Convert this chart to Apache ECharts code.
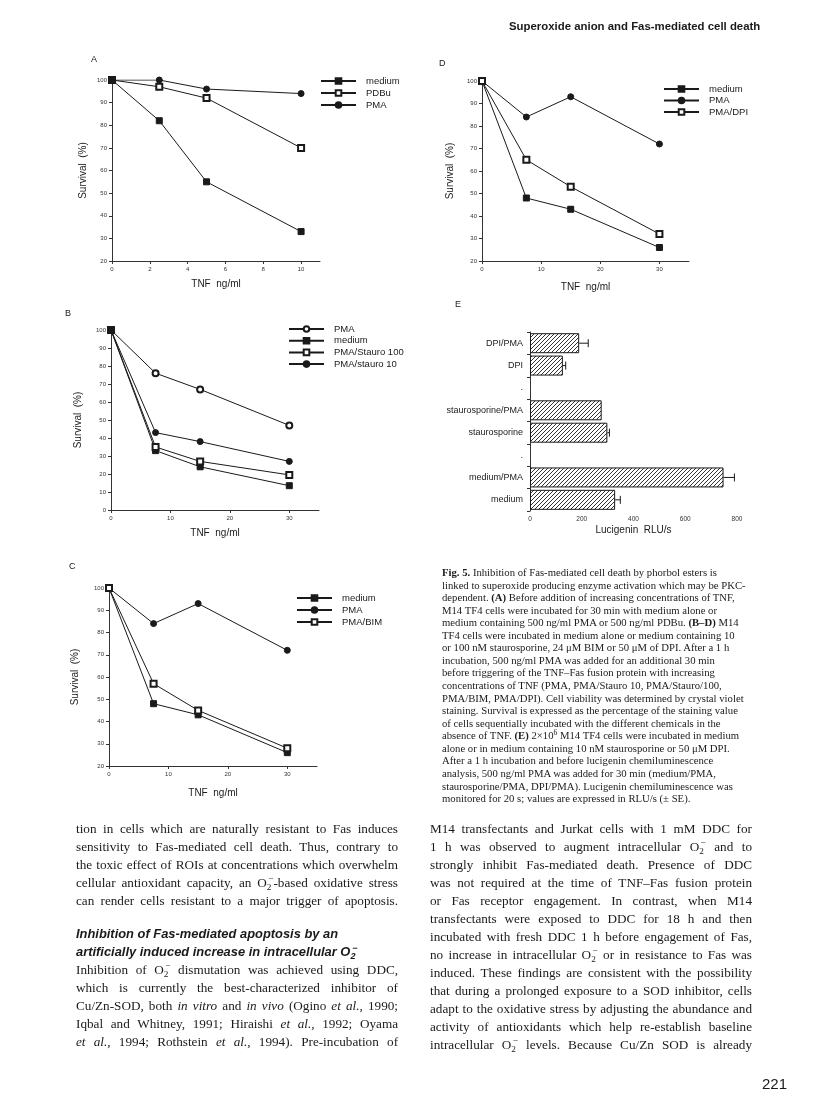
<!DOCTYPE html>
<html><head><meta charset="utf-8">
<script src="https://cdn.jsdelivr.net/npm/echarts@6/dist/echarts.min.js"></script>
<style>
html,body{margin:0;padding:0;background:#fff;}
#page{position:relative;width:816px;height:1104px;overflow:hidden;background:#fff;}
#chart{position:absolute;left:0;top:0;width:816px;height:1104px;}
.t{position:absolute;white-space:nowrap;color:#1a1a1a;}
.cap{font-family:'Liberation Serif',serif;font-size:10.7px;line-height:12px;left:442px;}
.bd{font-family:'Liberation Serif',serif;font-size:13.2px;line-height:18px;width:322px;text-align:justify;text-align-last:justify;}
.hd{font-family:'Liberation Sans',sans-serif;font-size:12.9px;font-weight:bold;font-style:italic;line-height:18px;left:76px;}
.sb{font-size:70%;position:relative;top:3px;}
.sp{font-size:70%;position:relative;top:-5px;margin-left:-0.35em;}
</style></head>
<body><div id="page"><div id="chart"></div><div id="txt"></div></div>
<script>
// ---------- data ----------
const tnfA = [0, 2.5, 5, 10];
const tnfBCD = [0, 7.5, 15, 30];
const aMedium = [100, 82, 55, 33];
const aPDBu = [100, 97, 92, 70];
const aPMA = [100, 100, 96, 94];
const bPMA = [100, 76, 67, 47];
const bMedium = [100, 33, 24, 13.5];
const bStauro100 = [100, 35, 27, 19.5];
const bStauro10 = [100, 43, 38, 27];
const cMedium = [100, 48, 43, 26];
const cPMA = [100, 84, 93, 72];
const cBIM = [100, 57, 45, 28];
const dMedium = [100, 48, 43, 26];
const dPMA = [100, 84, 93, 72];
const dDPI = [100, 65, 53, 32];
const eCategories = ['DPI/PMA', 'DPI', '.', 'staurosporine/PMA', 'staurosporine', '.', 'medium/PMA', 'medium'];
const eValues = [190, 127, null, 277, 299, null, 748, 329];
const eErrors = [35, 11, null, 0, 8, null, 42, 20];

// ---------- helpers ----------
const INK = '#1a1a1a';
const FONT = 'Liberation Sans';
function pts(xs, ys) { return xs.map((x, i) => [x, ys[i]]); }
function lineSeries(name, xs, ys, symbol, idx, size) {
  return {
    type: 'line', name: name, xAxisIndex: idx, yAxisIndex: idx,
    data: pts(xs, ys), symbol: symbol, symbolSize: size || 6,
    lineStyle: { color: INK, width: 1 },
    itemStyle: { color: INK, borderColor: INK, borderWidth: 1 },
    emphasis: { disabled: true }, animation: false
  };
}
function xAx(idx, max, interval, nameGap) {
  return {
    gridIndex: idx, type: 'value', min: 0, max: max, interval: interval,
    name: 'TNF  ng/ml', nameLocation: 'middle', nameGap: nameGap,
    nameTextStyle: { fontSize: 10, fontFamily: FONT, color: INK },
    axisLine: { lineStyle: { color: '#333', width: 1 } },
    axisTick: { length: 3, lineStyle: { color: '#333' } },
    axisLabel: { fontSize: 6, fontFamily: FONT, color: '#333', margin: 5, showMaxLabel: (max % interval === 0) },
    splitLine: { show: false }
  };
}
function yAx(idx, min, nameGap) {
  return {
    gridIndex: idx, type: 'value', min: min, max: 100, interval: 10,
    name: 'Survival  (%)', nameLocation: 'middle', nameGap: nameGap,
    nameTextStyle: { fontSize: 10, fontFamily: FONT, color: INK },
    axisLine: { show: true, lineStyle: { color: '#333', width: 1 } },
    axisTick: { show: true, length: 3, lineStyle: { color: '#333' } },
    axisLabel: { fontSize: 6, fontFamily: FONT, color: '#333', margin: 5 },
    splitLine: { show: false }
  };
}
function legendFor(names, left, top, gap) {
  return {
    data: names, left: left, top: top, orient: 'vertical', padding: 0,
    itemWidth: 35, itemHeight: 7, itemGap: gap, selectedMode: false,
    formatter: n => n.split(':')[1],
    textStyle: { fontSize: 9.5, fontFamily: FONT, color: INK, padding: [0, 0, 0, 5] }
  };
}
function letter(t, left, top) {
  return { text: t, left: left, top: top, padding: 0, textStyle: { fontSize: 9, fontWeight: 'normal', fontFamily: FONT, color: INK } };
}

// hatch pattern for bars
const pc = document.createElement('canvas');
pc.width = 4; pc.height = 4;
const g = pc.getContext('2d');
g.fillStyle = '#fff'; g.fillRect(0, 0, 4, 4);
g.strokeStyle = '#333'; g.lineWidth = 1;
g.beginPath();
g.moveTo(0, 4); g.lineTo(4, 0);
g.moveTo(-1, 1); g.lineTo(1, -1);
g.moveTo(3, 5); g.lineTo(5, 3);
g.stroke();

const chart = echarts.init(document.getElementById('chart'), null, { renderer: 'canvas', width: 816, height: 1104 });

const option = {
  backgroundColor: '#fff',
  animation: false,
  title: [letter('A', 91, 55), letter('D', 439, 59), letter('B', 65, 309), letter('E', 455, 300), letter('C', 69, 562)],
  grid: [
    { left: 112, top: 80, width: 208, height: 181 },
    { left: 482, top: 81, width: 207, height: 180 },
    { left: 111, top: 330, width: 208, height: 180 },
    { left: 109, top: 588, width: 208, height: 178 },
    { left: 530, top: 332, width: 207, height: 179 }
  ],
  xAxis: [
    xAx(0, 11, 2, 18),
    xAx(1, 35, 10, 21),
    xAx(2, 35, 10, 18),
    xAx(3, 35, 10, 22),
    {
      gridIndex: 4, type: 'value', min: 0, max: 800, interval: 200,
      name: 'Lucigenin  RLU/s', nameLocation: 'middle', nameGap: 14,
      nameTextStyle: { fontSize: 10, fontFamily: FONT, color: INK },
      axisLine: { lineStyle: { color: '#333' } },
      axisTick: { length: 3, lineStyle: { color: '#333' } },
      axisLabel: { fontSize: 6.5, fontFamily: FONT, color: '#333', margin: 5 },
      splitLine: { show: false }
    }
  ],
  yAxis: [
    yAx(0, 20, 24),
    yAx(1, 20, 27),
    yAx(2, 0, 28),
    yAx(3, 20, 29),
    {
      gridIndex: 4, type: 'category', data: eCategories, inverse: true,
      axisLine: { show: true, lineStyle: { color: '#333' } },
      axisTick: { show: true, length: 3, lineStyle: { color: '#333' } },
      axisLabel: { fontSize: 9, fontFamily: FONT, color: INK, margin: 7 },
      splitLine: { show: false }
    }
  ],
  legend: [
    legendFor(['A:medium', 'A:PDBu', 'A:PMA'], 320, 76, 2),
    legendFor(['D:medium', 'D:PMA', 'D:PMA/DPI'], 663, 84, 1.5),
    legendFor(['B:PMA', 'B:medium', 'B:PMA/Stauro 100', 'B:PMA/stauro 10'], 288, 324, 1.7),
    legendFor(['C:medium', 'C:PMA', 'C:PMA/BIM'], 296, 593, 2)
  ],
  series: [
    lineSeries('A:medium', tnfA, aMedium, 'rect', 0),
    lineSeries('A:PDBu', tnfA, aPDBu, 'emptyRect', 0),
    lineSeries('A:PMA', tnfA, aPMA, 'circle', 0),
    lineSeries('D:medium', tnfBCD, dMedium, 'rect', 1),
    lineSeries('D:PMA', tnfBCD, dPMA, 'circle', 1),
    lineSeries('D:PMA/DPI', tnfBCD, dDPI, 'emptyRect', 1),
    lineSeries('B:PMA', tnfBCD, bPMA, 'emptyCircle', 2),
    lineSeries('B:medium', tnfBCD, bMedium, 'rect', 2),
    lineSeries('B:PMA/Stauro 100', tnfBCD, bStauro100, 'emptyRect', 2),
    lineSeries('B:PMA/stauro 10', tnfBCD, bStauro10, 'circle', 2),
    lineSeries('C:medium', tnfBCD, cMedium, 'rect', 3),
    lineSeries('C:PMA', tnfBCD, cPMA, 'circle', 3),
    lineSeries('C:PMA/BIM', tnfBCD, cBIM, 'emptyRect', 3),
    {
      type: 'bar', xAxisIndex: 4, yAxisIndex: 4, barWidth: 20,
      data: eValues.map(v => v == null ? '-' : v),
      itemStyle: { color: { image: pc, repeat: 'repeat' }, borderColor: INK, borderWidth: 1 },
      emphasis: { disabled: true }
    },
    {
      type: 'custom', xAxisIndex: 4, yAxisIndex: 4,
      data: eValues.map((v, i) => (v == null || !eErrors[i]) ? null : [v, i, v + eErrors[i]]).filter(d => d),
      encode: { x: [0, 2], y: 1 },
      renderItem: function (params, api) {
        const s = api.coord([api.value(0), api.value(1)]);
        const e = api.coord([api.value(2), api.value(1)]);
        const st = { stroke: INK, lineWidth: 1 };
        return {
          type: 'group', children: [
            { type: 'line', shape: { x1: s[0], y1: s[1], x2: e[0], y2: e[1] }, style: st },
            { type: 'line', shape: { x1: e[0], y1: e[1] - 4, x2: e[0], y2: e[1] + 4 }, style: st }
          ]
        };
      },
      z: 5
    }
  ]
};
chart.setOption(option);

// ---------- page text ----------
const O2 = 'O<span class="sb">2</span><span class="sp">&minus;</span>';
const capLines = [
  '<b>Fig. 5.</b> Inhibition of Fas-mediated cell death by phorbol esters is',
  'linked to superoxide producing enzyme activation which may be PKC-',
  'dependent. <b>(A)</b> Before addition of increasing concentrations of TNF,',
  'M14 TF4 cells were incubated for 30 min with medium alone or',
  'medium containing 500 ng/ml PMA or 500 ng/ml PDBu. <b>(B–D)</b> M14',
  'TF4 cells were incubated in medium alone or medium containing 10',
  'or 100 nM staurosporine, 24 μM BIM or 50 μM of DPI. After a 1 h',
  'incubation, 500 ng/ml PMA was added for an additional 30 min',
  'before triggering of the TNF–Fas fusion protein with increasing',
  'concentrations of TNF (PMA, PMA/Stauro 10, PMA/Stauro/100,',
  'PMA/BIM, PMA/DPI). Cell viability was determined by crystal violet',
  'staining. Survival is expressed as the percentage of the staining value',
  'of cells sequentially incubated with the different chemicals in the',
  'absence of TNF. <b>(E)</b> 2×10<span style="font-size:70%;position:relative;top:-4px">6</span> M14 TF4 cells were incubated in medium',
  'alone or in medium containing 10 nM staurosporine or 50 μM DPI.',
  'After a 1 h incubation and before lucigenin chemiluminescence',
  'analysis, 500 ng/ml PMA was added for 30 min (medium/PMA,',
  'staurosporine/PMA, DPI/PMA). Lucigenin chemiluminescence was',
  'monitored for 20 s; values are expressed in RLU/s (± SE).'
];
const leftLines1 = [
  'tion in cells which are naturally resistant to Fas induces',
  'sensitivity to Fas-mediated cell death. Thus, contrary to',
  'the toxic effect of ROIs at concentrations which overwhelm',
  'cellular antioxidant capacity, an ' + O2 + '-based oxidative stress',
  'can render cells resistant to a major trigger of apoptosis.'
];
const headLines = [
  'Inhibition of Fas-mediated apoptosis by an',
  'artificially induced increase in intracellular ' + O2
];
const leftLines2 = [
  'Inhibition of ' + O2 + ' dismutation was achieved using DDC,',
  'which is currently the best-characterized inhibitor of',
  'Cu/Zn-SOD, both <i>in vitro</i> and <i>in vivo</i> (Ogino <i>et al.</i>, 1990;',
  'Iqbal and Whitney, 1991; Hiraishi <i>et al.</i>, 1992; Oyama',
  '<i>et al.</i>, 1994; Rothstein <i>et al.</i>, 1994). Pre-incubation of'
];
const rightLines = [
  'M14 transfectants and Jurkat cells with 1 mM DDC for',
  '1 h was observed to augment intracellular ' + O2 + ' and to',
  'strongly inhibit Fas-mediated death. Presence of DDC',
  'was not required at the time of TNF–Fas fusion protein',
  'or Fas receptor engagement. In contrast, when M14',
  'transfectants were exposed to DDC for 18 h and then',
  'incubated with fresh DDC 1 h before engagement of Fas,',
  'no increase in intracellular ' + O2 + ' or in resistance to Fas was',
  'induced. These findings are consistent with the possibility',
  'that during a prolonged exposure to a SOD inhibitor, cells',
  'adapt to the oxidative stress by adjusting the abundance and',
  'activity of antioxidants which help re-establish baseline',
  'intracellular ' + O2 + ' levels. Because Cu/Zn SOD is already'
];
const txt = document.getElementById('txt');
function add(cls, html, left, top, extra) {
  const d = document.createElement('div');
  d.className = 't ' + cls;
  d.innerHTML = html;
  d.style.left = left + 'px';
  d.style.top = top + 'px';
  if (extra) Object.assign(d.style, extra);
  txt.appendChild(d);
}
add('', 'Superoxide anion and Fas-mediated cell death', 509, 20, { font: 'bold 11.4px "Liberation Sans"' });
capLines.forEach((l, i) => add('cap', l, 442, 572 + i * 12.56 - 6));
leftLines1.forEach((l, i) => add('bd', l, 76, 829 + i * 18 - 9));
headLines.forEach((l, i) => add('hd', l, 76, 934 + i * 18 - 9));
leftLines2.forEach((l, i) => add('bd', l, 76, 970 + i * 18 - 9));
rightLines.forEach((l, i) => add('bd', l, 430, 829 + i * 18 - 9));
add('', '221', 762, 1075, { font: '15px "Liberation Sans"' });
</script>
</body></html>
